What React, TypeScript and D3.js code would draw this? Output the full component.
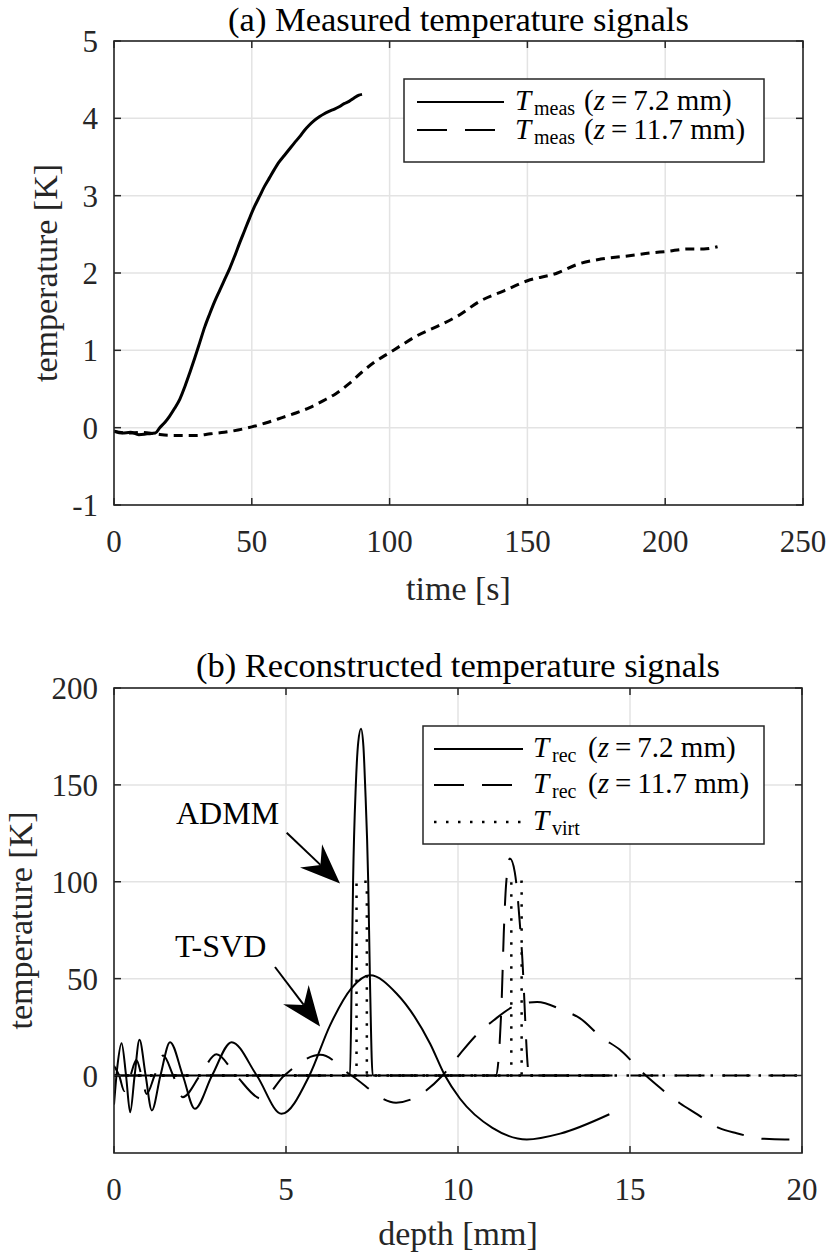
import React from "react";
import * as d3 from "d3";

const W = 830;
const H = 1253;
const FONT = "Liberation Serif";
const AXIS_COLOR = "#262626";
const GRID_COLOR = "#e3e3e3";

// (a) measured signals
const measTimeA = [0, 3, 6, 9, 12, 15, 16.6, 18.5, 20.2, 22, 23.9, 25.7, 27.5, 29.3, 31.1, 32.9, 34.7, 36.5, 38.4, 40.2, 42, 43.8, 45.6, 47.4, 49.2, 51, 52.8, 54.6, 56.4, 58.2, 60, 61.8, 63.6, 65.4, 67.3, 69, 70.8, 72.6, 74.5, 76.3, 78, 80, 81.7, 83.5, 85.3, 87, 88.9, 90];
const measTempA = [-0.04, -0.07, -0.06, -0.09, -0.08, -0.07, 0.0, 0.07, 0.15, 0.25, 0.37, 0.53, 0.71, 0.9, 1.1, 1.3, 1.47, 1.63, 1.78, 1.92, 2.06, 2.22, 2.39, 2.55, 2.71, 2.86, 2.99, 3.12, 3.23, 3.34, 3.44, 3.52, 3.6, 3.68, 3.76, 3.84, 3.91, 3.97, 4.02, 4.06, 4.09, 4.12, 4.15, 4.19, 4.22, 4.26, 4.3, 4.31];

const measTimeB = [0, 5, 10, 15, 20, 25, 30, 35, 40, 45, 50, 55, 61, 66, 71, 76, 80.5, 85.3, 90, 95, 100, 104, 110, 117.3, 124.5, 133, 141.5, 150, 160.9, 168, 176.6, 186.3, 194.8, 200.8, 208, 214, 219];
const measTempB = [-0.05, -0.07, -0.06, -0.08, -0.1, -0.1, -0.1, -0.08, -0.06, -0.03, 0.01, 0.06, 0.13, 0.19, 0.26, 0.35, 0.44, 0.57, 0.72, 0.86, 0.97, 1.06, 1.19, 1.31, 1.44, 1.64, 1.77, 1.9, 2.0, 2.11, 2.18, 2.22, 2.26, 2.28, 2.31, 2.31, 2.34];

const xTicksA = [0, 50, 100, 150, 200, 250];
const yTicksA = [-1, 0, 1, 2, 3, 4, 5];

// (b) reconstructed signals
const svdDepth72 = [0, 0.1, 0.22, 0.35, 0.47, 0.6, 0.74, 0.92, 1.1, 1.35, 1.63, 2.0, 2.35, 2.85, 3.42, 4.15, 4.87, 5.68, 6.28, 6.9, 7.44, 8.22, 9.19, 9.62, 10.06, 11.0, 12.0, 12.97, 14.4];
const svdTemp72 = [-15, 5, 16.7, 0, -19, 0, 18.4, 0, -18, 0, 17.2, 0, -17.2, 0, 17.2, 0, -19.8, 0, 25.9, 45, 51.7, 42.2, 16.4, 0, -12, -27, -33, -30, -20];

const svdDepth117 = [0, 0.15, 0.3, 0.48, 0.65, 0.8, 0.95, 1.18, 1.43, 1.72, 2.0, 2.5, 2.98, 3.55, 4.3, 4.95, 6.0, 6.9, 8.2, 9.55, 10.06, 10.58, 11.03, 11.7, 12.3, 13.06, 13.55, 14.17, 14.7, 15.38, 15.77, 16.45, 16.9, 17.6, 18.1, 18.9, 19.5, 20];
const svdTemp117 = [5, 0, -8, 0, 8, 0, -9.5, 0, 10.3, 0, -11.2, 0, 11, 0, -12, 0, 10.7, 0, -14, 0, 11.2, 21.7, 28.4, 36.2, 38, 33.6, 29.5, 19.7, 13.4, 1.3, -4.8, -14.3, -19.4, -27.2, -29.8, -32.7, -33, -32.8];

const admmDepth72 = [0, 6.86, 6.91, 6.95, 7.03, 7.1, 7.18, 7.25, 7.3, 7.39, 7.44, 7.52, 14.4];
const admmTemp72 = [0, 0, 50, 100, 150, 172, 179, 170, 150, 100, 50, 0, 0];

const admmDepth117 = [0, 11.1, 11.27, 11.33, 11.4, 11.51, 11.65, 11.85, 12.07, 20];
const admmTemp117 = [0, 0, 39, 73, 99, 112, 105, 66, 0, 0];

const virtDepth72 = [0, 7.05, 7.05, 7.35, 7.35, 14.4];
const virtTemp72 = [0, 0, 100, 100, 0, 0];
const virtDepth117 = [0, 11.55, 11.55, 11.85, 11.85, 20];
const virtTemp117 = [0, 0, 100, 100, 0, 0];

const xTicksB = [0, 5, 10, 15, 20];
const yTicksB = [0, 50, 100, 150, 200];

// annotation arrows, data units: [text, textDepth, textTemp, fromDepth, fromTemp, toDepth, toTemp]
const arrowNotes: [string, number, number, number, number, number, number][] = [
  ["ADMM", 3.3, 130, 5.02, 125.3, 6.57, 99.1],
  ["T-SVD", 3.1, 61, 4.68, 56, 5.99, 25.3],
];

type Pt = [number, number];
const zip = (a: number[], b: number[]): Pt[] => a.map((v, i) => [v, b[i]]);

type AxesProps = {
  id: string;
  x: d3.ScaleLinear<number, number>;
  y: d3.ScaleLinear<number, number>;
  xTicks: number[];
  yTicks: number[];
  title: string;
  titleY: number;
  xLabel: string;
  xLabelY: number;
  yLabelX: number;
  children?: React.ReactNode;
};

const Axes = ({ id, x, y, xTicks, yTicks, title, titleY, xLabel, xLabelY, yLabelX, children }: AxesProps) => {
  const [x0, x1] = x.range();
  const [y0, y1] = y.range(); // y0 bottom, y1 top
  const tl = 7;
  return (
    <g>
      <defs>
        <clipPath id={id}>
          <rect x={x0} y={y1} width={x1 - x0} height={y0 - y1} />
        </clipPath>
      </defs>
      {xTicks.map((t) => (
        <line key={"gx" + t} x1={x(t)} x2={x(t)} y1={y0} y2={y1} stroke={GRID_COLOR} strokeWidth={1.5} />
      ))}
      {yTicks.map((t) => (
        <line key={"gy" + t} x1={x0} x2={x1} y1={y(t)} y2={y(t)} stroke={GRID_COLOR} strokeWidth={1.5} />
      ))}
      <g clipPath={`url(#${id})`}>{children}</g>
      <rect x={x0} y={y1} width={x1 - x0} height={y0 - y1} fill="none" stroke={AXIS_COLOR} strokeWidth={1.6} />
      {xTicks.map((t) => (
        <g key={"tx" + t}>
          <line x1={x(t)} x2={x(t)} y1={y0} y2={y0 - tl} stroke={AXIS_COLOR} strokeWidth={1.5} />
          <line x1={x(t)} x2={x(t)} y1={y1} y2={y1 + tl} stroke={AXIS_COLOR} strokeWidth={1.5} />
          <text x={x(t)} y={y0 + 47} textAnchor="middle" fontFamily={FONT} fontSize={31} fill={AXIS_COLOR}>
            {t}
          </text>
        </g>
      ))}
      {yTicks.map((t) => (
        <g key={"ty" + t}>
          <line x1={x0} x2={x0 + tl} y1={y(t)} y2={y(t)} stroke={AXIS_COLOR} strokeWidth={1.5} />
          <line x1={x1} x2={x1 - tl} y1={y(t)} y2={y(t)} stroke={AXIS_COLOR} strokeWidth={1.5} />
          <text x={x0 - 16} y={y(t) + 11} textAnchor="end" fontFamily={FONT} fontSize={31} fill={AXIS_COLOR}>
            {t}
          </text>
        </g>
      ))}
      <text x={(x0 + x1) / 2} y={titleY} textAnchor="middle" fontFamily={FONT} fontSize={34.5} fill="#000">
        {title}
      </text>
      <text x={(x0 + x1) / 2} y={xLabelY} textAnchor="middle" fontFamily={FONT} fontSize={34} fill={AXIS_COLOR}>
        {xLabel}
      </text>
      <text
        transform={`translate(${yLabelX},${(y0 + y1) / 2}) rotate(-90)`}
        textAnchor="middle"
        fontFamily={FONT}
        fontSize={34}
        fill={AXIS_COLOR}
      >
        temperature [K]
      </text>
    </g>
  );
};

const LegendLabel = ({ x, y, sub, z }: { x: number; y: number; sub: string; z?: string }) => (
  <g fontFamily={FONT} fontSize={29} fill="#000">
    <text x={x} y={y} fontStyle="italic">T</text>
    <text x={x + 19} y={y + 5} fontSize={20}>{sub}</text>
    {z && (
      <text x={x + (sub === "meas" ? 69 : 55)} y={y}>
        (<tspan fontStyle="italic">z</tspan>
        <tspan dx={6}>=</tspan>
        <tspan dx={6}>{z} mm)</tspan>
      </text>
    )}
  </g>
);

const Arrow = ({ x0, y0, x1, y1 }: { x0: number; y0: number; x1: number; y1: number }) => {
  const dx = x1 - x0;
  const dy = y1 - y0;
  const L = Math.hypot(dx, dy);
  const ux = dx / L;
  const uy = dy / L;
  const px = -uy;
  const py = ux;
  const headLen = 40;
  const half = 16;
  const notch = 27;
  const bx = x1 - ux * headLen;
  const by = y1 - uy * headLen;
  const nx = x1 - ux * notch;
  const ny = y1 - uy * notch;
  const pts = [
    [x1, y1],
    [bx + px * half, by + py * half],
    [nx, ny],
    [bx - px * half, by - py * half],
  ];
  return (
    <g>
      <line x1={x0} y1={y0} x2={nx} y2={ny} stroke="#000" strokeWidth={2} />
      <polygon points={pts.map((p) => p.join(",")).join(" ")} fill="#000" />
    </g>
  );
};

export default function App() {
  const xA = d3.scaleLinear().domain([0, 250]).range([114, 803]);
  const yA = d3.scaleLinear().domain([-1, 5]).range([505, 41]);
  const xB = d3.scaleLinear().domain([0, 20]).range([114, 802]);
  const yB = d3.scaleLinear().domain([-40, 200]).range([1153, 688]);

  const lineA = d3
    .line<Pt>()
    .x((d) => xA(d[0]))
    .y((d) => yA(d[1]))
    .curve(d3.curveMonotoneX);
  const lineB = d3
    .line<Pt>()
    .x((d) => xB(d[0]))
    .y((d) => yB(d[1]))
    .curve(d3.curveMonotoneX);
  const lineBLinear = d3
    .line<Pt>()
    .x((d) => xB(d[0]))
    .y((d) => yB(d[1]));

  const dashed = "28,18";
  const dotted = "2.5,9.5";

  return (
    <svg
      width={W}
      height={H}
      style={{ position: "absolute", left: 0, top: 0, background: "#fff" }}
    >
      <rect width={W} height={H} fill="#fff" />

      {/* (a) */}
      <Axes
        id="clipA"
        x={xA}
        y={yA}
        xTicks={xTicksA}
        yTicks={yTicksA}
        title="(a) Measured temperature signals"
        titleY={31}
        xLabel="time [s]"
        xLabelY={600}
        yLabelX={57}
      >
        <path d={lineA(zip(measTimeB, measTempB)) || ""} fill="none" stroke="#000" strokeWidth={3} strokeDasharray="9,6" />
        <path d={lineA(zip(measTimeA, measTempA)) || ""} fill="none" stroke="#000" strokeWidth={3} />
      </Axes>
      <g>
        <rect x={404} y={79} width={360} height={83} fill="#fff" stroke={AXIS_COLOR} strokeWidth={1.5} />
        <line x1={417} x2={504} y1={102} y2={102} stroke="#000" strokeWidth={2} />
        <line x1={417} x2={504} y1={130} y2={130} stroke="#000" strokeWidth={2} strokeDasharray="30,18" />
        <LegendLabel x={515} y={110} sub="meas" z="7.2" />
        <LegendLabel x={515} y={139} sub="meas" z="11.7" />
      </g>

      {/* (b) */}
      <Axes
        id="clipB"
        x={xB}
        y={yB}
        xTicks={xTicksB}
        yTicks={yTicksB}
        title="(b) Reconstructed temperature signals"
        titleY={677}
        xLabel="depth [mm]"
        xLabelY={1245}
        yLabelX={32}
      >
        <path d={lineB(zip(svdDepth117, svdTemp117)) || ""} fill="none" stroke="#000" strokeWidth={2} strokeDasharray={dashed} />
        <path d={lineB(zip(admmDepth117, admmTemp117)) || ""} fill="none" stroke="#000" strokeWidth={2} strokeDasharray={dashed} />
        <path d={lineB(zip(svdDepth72, svdTemp72)) || ""} fill="none" stroke="#000" strokeWidth={2} />
        <path d={lineB(zip(admmDepth72, admmTemp72)) || ""} fill="none" stroke="#000" strokeWidth={2} />
        <path d={lineBLinear(zip(virtDepth72, virtTemp72)) || ""} fill="none" stroke="#000" strokeWidth={2.5} strokeDasharray={dotted} />
        <path d={lineBLinear(zip(virtDepth117, virtTemp117)) || ""} fill="none" stroke="#000" strokeWidth={2.5} strokeDasharray={dotted} />
      </Axes>
      {arrowNotes.map(([label, tx, ty, fx, fy, ex, ey]) => (
        <g key={label}>
          <text x={xB(tx)} y={yB(ty)} textAnchor="middle" fontFamily={FONT} fontSize={32} fill="#000">
            {label}
          </text>
          <Arrow x0={xB(fx)} y0={yB(fy)} x1={xB(ex)} y1={yB(ey)} />
        </g>
      ))}
      <g>
        <rect x={423} y={726} width={341} height={118} fill="#fff" stroke={AXIS_COLOR} strokeWidth={1.5} />
        <line x1={434} x2={523} y1={749} y2={749} stroke="#000" strokeWidth={2} />
        <line x1={434} x2={523} y1={785} y2={785} stroke="#000" strokeWidth={2} strokeDasharray="30,18" />
        <line x1={434} x2={523} y1={822} y2={822} stroke="#000" strokeWidth={2.5} strokeDasharray={dotted} />
        <LegendLabel x={533} y={757} sub="rec" z="7.2" />
        <LegendLabel x={533} y={793} sub="rec" z="11.7" />
        <LegendLabel x={533} y={830} sub="virt" />
      </g>
    </svg>
  );
}
